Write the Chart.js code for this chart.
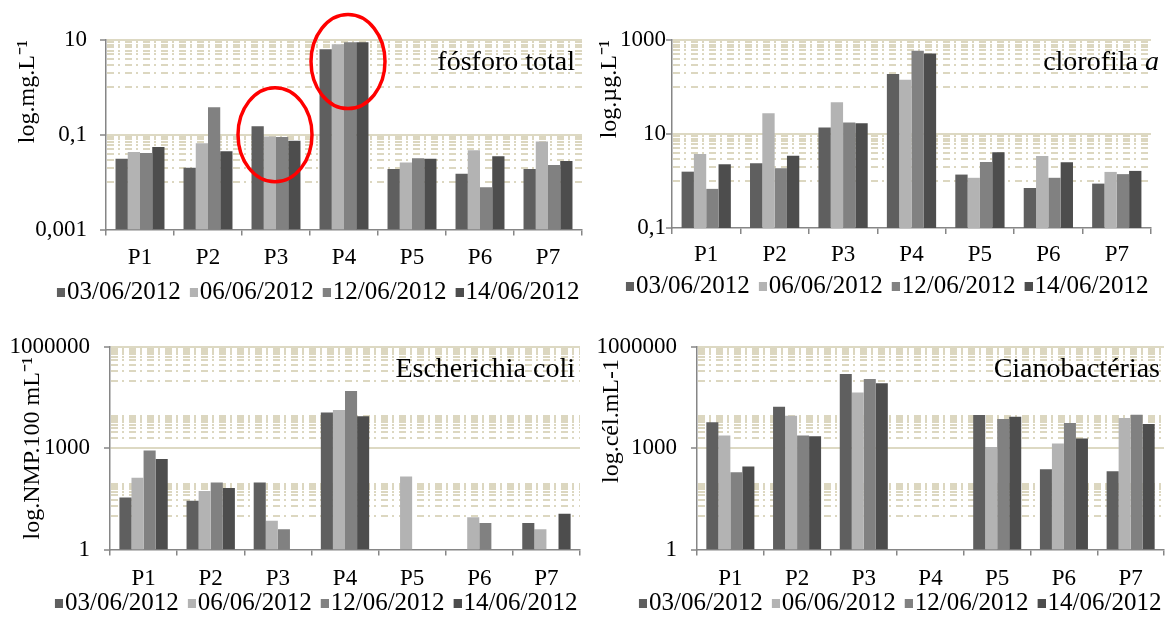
<!DOCTYPE html>
<html>
<head>
<meta charset="utf-8">
<script src="https://cdn.jsdelivr.net/npm/chart.js@4.4.0/dist/chart.umd.min.js"></script>
<style>
  body { margin: 0; background: #fff; width: 1166px; height: 617px; overflow: hidden; position: relative; }
  canvas { position: absolute; }
</style>
</head>
<body>
<canvas id="c1" width="583" height="315" style="left:0;top:0"></canvas>
<canvas id="c2" width="583" height="309" style="left:583px;top:0"></canvas>
<canvas id="c3" width="583" height="316" style="left:0;top:310px"></canvas>
<canvas id="c4" width="583" height="316" style="left:583px;top:310px"></canvas>
<script>
// pontos de coleta e datas
const pontos = ['P1', 'P2', 'P3', 'P4', 'P5', 'P6', 'P7'];
const datas = ['03/06/2012', '06/06/2012', '12/06/2012', '14/06/2012'];

// fósforo total (mg/L)
const fosforo_0306 = [0.031, 0.020, 0.152, 6.4, 0.019, 0.015, 0.019];
const fosforo_0606 = [0.043, 0.066, 0.092, 8.1, 0.026, 0.047, 0.072];
const fosforo_1206 = [0.041, 0.38, 0.090, 9.0, 0.032, 0.0078, 0.023];
const fosforo_1406 = [0.055, 0.045, 0.075, 9.0, 0.031, 0.035, 0.028];

// clorofila a (µg/L)
const clorofila_0306 = [1.58, 2.38, 13.7, 189, 1.37, 0.71, 0.88];
const clorofila_0606 = [3.75, 27.5, 47.5, 143, 1.17, 3.4, 1.56];
const clorofila_1206 = [0.68, 1.87, 17.5, 594, 2.54, 1.17, 1.4];
const clorofila_1406 = [2.27, 3.45, 16.9, 514, 4.07, 2.51, 1.64];

// Escherichia coli (NMP/100 mL) - null = sem barra
const coli_0306 = [35, 28, 97, 11500, null, null, 6.1];
const coli_0606 = [133, 54, 7.1, 13500, 146, 9.1, 3.95];
const coli_1206 = [865, 97, 3.95, 50000, null, 6.1, null];
const coli_1406 = [480, 66, null, 8800, null, null, 11.4];

// cianobactérias (cél/mL)
const ciano_0306 = [5860, 16900, 158000, null, 9660, 240, 209];
const ciano_0606 = [2380, 9200, 44500, null, 1080, 1390, 7890];
const ciano_1206 = [195, 2380, 112000, null, 7380, 5620, 9860];
const ciano_1406 = [287, 2280, 84000, null, 8600, 1950, 5260];

// ticks principais de cada eixo
const ticksFosforo = [0.001, 0.1, 10];
const ticksClorofila = [0.1, 10, 1000];
const ticksBact = [1, 1000, 1000000];

const cores = ['#5f5f5f', '#b3b3b3', '#818181', '#4d4d4d'];
const FONTE = "'Liberation Serif', 'Times New Roman', serif";
const BEGE = '#ddd9c3';
const CINZA = '#868686';

Chart.defaults.font.family = FONTE;
Chart.defaults.color = '#000';

// quadradinho da legenda encostado no texto (imagem com a parte esquerda vazia)
function quadrado(cor) {
    const c = document.createElement('canvas');
    c.width = 25; c.height = 9;
    const g = c.getContext('2d');
    g.fillStyle = cor;
    g.fillRect(17, 0, 8, 9);
    return c;
}
const quadrados = cores.map(quadrado);

// linhas de grade secundárias (traço-ponto), só numa década sim outra não
const gradeMenor = {
    id: 'gradeMenor',
    beforeDatasetsDraw(chart) {
        const y = chart.scales.y, a = chart.chartArea, ctx = chart.ctx;
        const topo = Math.round(Math.log10(y.max));
        const base = Math.round(Math.log10(y.min));
        const majors = chart.options.scales.y.majors;
        ctx.save();
        ctx.strokeStyle = '#dcd7c0';
        ctx.lineWidth = 2;
        ctx.setLineDash([7, 4, 2, 5]);
        for (let e = topo - 1; e >= base; e -= 2) {
            for (let k = 1; k <= 9; k++) {
                const v = k * Math.pow(10, e);
                if (majors.some(m => Math.abs(m - v) / m < 1e-9)) continue;
                const py = Math.round(y.getPixelForValue(v));
                ctx.beginPath();
                ctx.moveTo(a.left + 1, py);
                ctx.lineTo(a.right, py);
                ctx.stroke();
            }
        }
        ctx.restore();
    }
};

// nome da variável dentro do gráfico, canto superior direito
const rotulo = {
    id: 'rotulo',
    afterDatasetsDraw(chart, args, opts) {
        if (!opts.partes) return;
        const ctx = chart.ctx, a = chart.chartArea;
        ctx.save();
        ctx.textBaseline = 'middle';
        ctx.textAlign = 'left';
        ctx.fillStyle = '#000';
        let x = a.right - opts.dx;
        for (let i = opts.partes.length - 1; i >= 0; i--) {
            const p = opts.partes[i];
            ctx.font = (p.italico ? 'italic ' : '') + opts.tamanho + 'px ' + FONTE;
            const w = ctx.measureText(p.texto).width;
            ctx.fillText(p.texto, x - w, a.top + opts.dy);
            x -= w;
        }
        ctx.restore();
    }
};

// círculos vermelhos de destaque
const elipses = {
    id: 'elipses',
    afterDatasetsDraw(chart, args, opts) {
        if (!opts.lista) return;
        const ctx = chart.ctx;
        ctx.save();
        ctx.strokeStyle = '#ff0000';
        ctx.lineWidth = 3.5;
        for (const el of opts.lista) {
            const cx = chart.scales.x.getPixelForValue(pontos.indexOf(el.ponto)) + el.dx;
            const cy = chart.scales.y.getPixelForValue(el.valor);
            ctx.beginPath();
            ctx.ellipse(cx, cy, el.rx, el.ry, 0, 0, Math.PI * 2);
            ctx.stroke();
        }
        ctx.restore();
    }
};

function painel(id, series, cfg) {
    const ctx = document.getElementById(id).getContext('2d');
    const min = cfg.majors[0], max = cfg.majors[cfg.majors.length - 1];
    return new Chart(ctx, {
        type: 'bar',
        data: {
            labels: pontos,
            datasets: series.map((s, i) => ({
                label: datas[i],
                data: s,
                backgroundColor: cores[i],
                borderWidth: 0,
                categoryPercentage: 0.72,
                barPercentage: 1.0
            }))
        },
        options: {
            responsive: false,
            animation: false,
            devicePixelRatio: 1,
            layout: { padding: { left: 0, top: cfg.topo, right: cfg.direita, bottom: 0 } },
            plugins: {
                legend: {
                    position: 'bottom',
                    align: 'end',
                    labels: {
                        font: { size: 25 }, color: '#000',
                        usePointStyle: true, pointStyleWidth: 4, boxHeight: 9, padding: 2.5,
                        generateLabels: chart => Chart.defaults.plugins.legend.labels.generateLabels(chart)
                            .map((l, i) => Object.assign(l, { pointStyle: quadrados[i] }))
                    }
                },
                tooltip: { enabled: false },
                rotulo: { partes: cfg.titulo, tamanho: 28, dx: cfg.tdx, dy: 23 },
                elipses: { lista: cfg.elipses }
            },
            scales: {
                x: {
                    type: 'category',
                    grid: { offset: true, drawOnChartArea: false, drawTicks: true, tickLength: 6, color: CINZA, lineWidth: 1.5 },
                    border: { color: CINZA, width: 1.5 },
                    ticks: { font: { size: 23 }, color: '#000', padding: cfg.xpad, maxRotation: 0, autoSkip: false },
                    afterFit: s => { s.height = cfg.alturaX; }
                },
                y: {
                    type: 'logarithmic',
                    min: min,
                    max: max,
                    majors: cfg.majors,
                    afterBuildTicks: s => { s.ticks = cfg.majors.map(v => ({ value: v })); },
                    ticks: {
                        font: { size: 23 },
                        color: '#000',
                        padding: cfg.ypad,
                        callback: v => String(v).replace('.', ',')
                    },
                    grid: {
                        color: c => (c.tick && c.tick.value === min) ? 'rgba(0,0,0,0)' : BEGE,
                        lineWidth: 2,
                        tickColor: CINZA,
                        tickLength: 6,
                        tickWidth: 1.5
                    },
                    border: { color: CINZA, width: 1.5 },
                    title: {
                        display: true,
                        text: cfg.ytitulo,
                        font: { size: 24 },
                        color: '#000',
                        align: cfg.yalinha,
                        padding: { top: cfg.ytpad, bottom: 0 }
                    },
                    afterFit: s => { s.width = cfg.larguraY; }
                }
            }
        },
        plugins: [gradeMenor, rotulo, elipses]
    });
}

painel('c1', [fosforo_0306, fosforo_0606, fosforo_1206, fosforo_1406], {
    majors: ticksFosforo, topo: 40, direita: 1, alturaX: 48, larguraY: 106,
    xpad: 8.5, ypad: 13, ytitulo: 'log.mg.L\u207B\u00B9', yalinha: 'end', ytpad: 13.6,
    titulo: [{ texto: 'fósforo total' }], tdx: 7,
    elipses: [
        { ponto: 'P3', valor: 0.1, rx: 37, ry: 47, dx: -1 },
        { ponto: 'P4', valor: 3.5, rx: 37, ry: 47, dx: 4 }
    ]
});

painel('c2', [clorofila_0306, clorofila_0606, clorofila_1206, clorofila_1406], {
    majors: ticksClorofila, topo: 40, direita: 15, alturaX: 43.5, larguraY: 89,
    xpad: 7.5, ypad: 0, ytitulo: 'log.µg.L\u207B\u00B9', yalinha: 'end', ytpad: 12.6,
    titulo: [{ texto: 'clorofila ' }, { texto: 'a', italico: true }], tdx: -8
});

painel('c3', [coli_0306, coli_0606, coli_1206, coli_1406], {
    majors: ticksBact, topo: 37, direita: 3, alturaX: 39, larguraY: 110,
    xpad: 10, ypad: 14, ytitulo: 'log.NMP.100 mL\u207B\u00B9', yalinha: 'center', ytpad: 18.6,
    titulo: [{ texto: 'Escherichia coli' }], tdx: 5
});

painel('c4', [ciano_0306, ciano_0606, ciano_1206, ciano_1406], {
    majors: ticksBact, topo: 37, direita: 2, alturaX: 39, larguraY: 114,
    xpad: 10, ypad: 14, ytitulo: 'log.cél.mL-1  ', yalinha: 'end', ytpad: 14.6,
    titulo: [{ texto: 'Cianobactérias' }], tdx: 4
});
</script>
</body>
</html>
